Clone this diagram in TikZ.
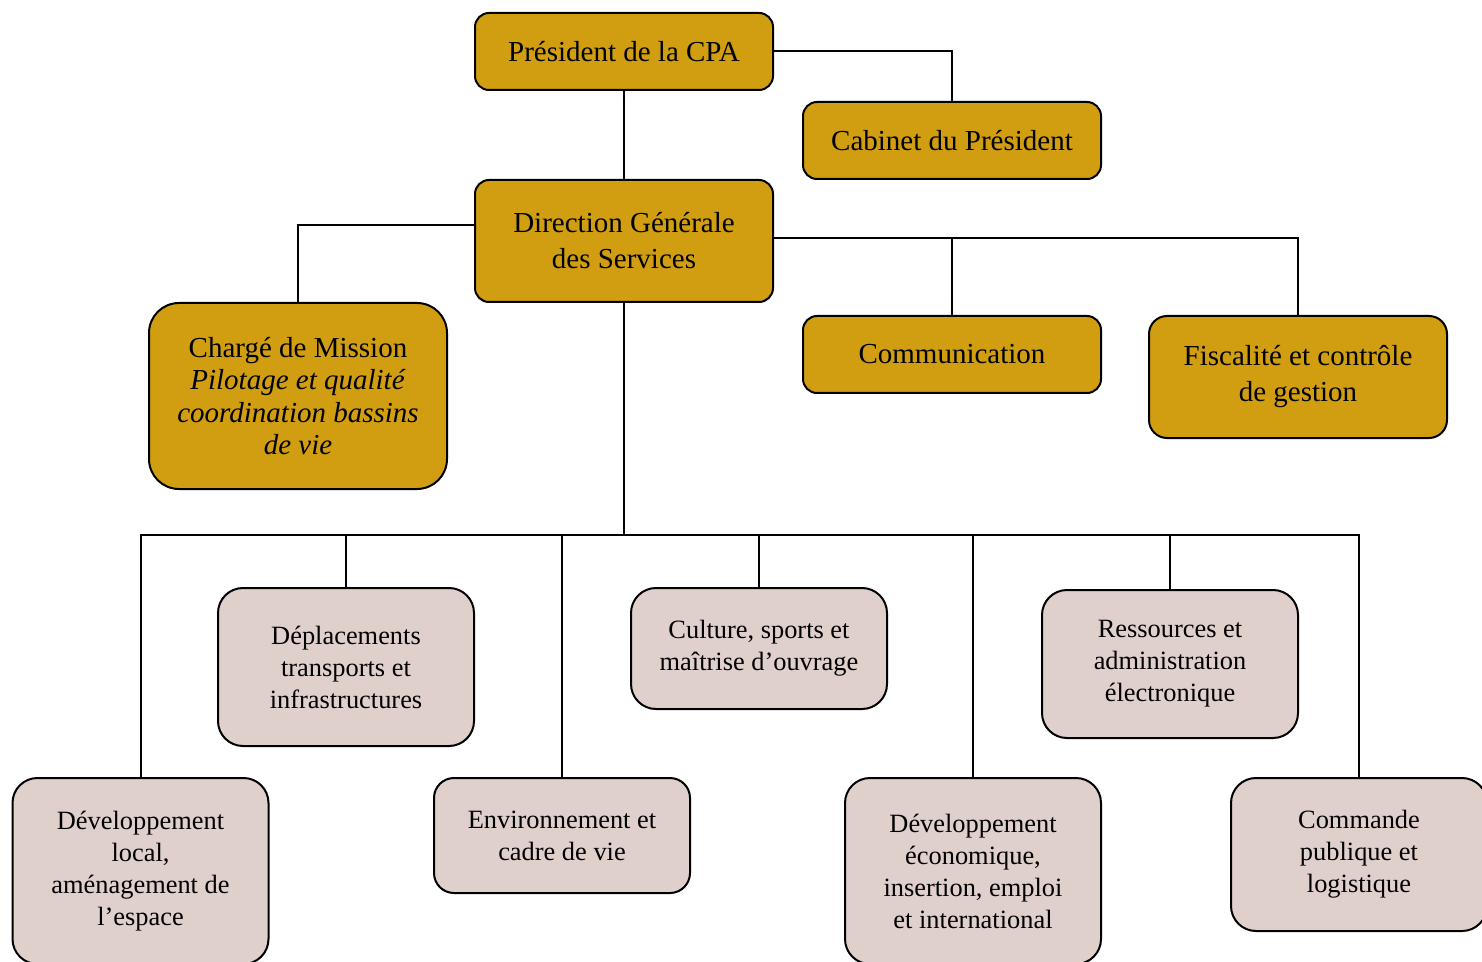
\documentclass[tikz,border=0pt]{standalone}
\usepackage{fontspec}
\setmainfont{Liberation Serif}
\definecolor{ocre}{RGB}{208,158,16}
\definecolor{rose}{RGB}{224,208,204}

\tikzstyle{direction}=[draw, line width=1pt, fill=ocre, rounded corners=7pt,
  align=center, minimum width=149pt, inner sep=2pt,
  font=\fontsize{14.5}{18}\selectfont]
\tikzstyle{service}=[draw, line width=1pt, fill=rose, rounded corners=12.5pt,
  align=center, minimum width=128pt, inner sep=2pt,
  font=\fontsize{13.2}{16}\selectfont]

\begin{document}
\begin{tikzpicture}[x=0.5pt, y=-0.5pt, line width=1pt]
\useasboundingbox (0,0) rectangle (1482,962);
%
\draw (624,51.5) node[direction, minimum height=38.5pt](president){Président de la CPA};
\draw (952,140.5) node[direction, minimum height=38.5pt](cabinet){Cabinet du Président};
\draw (president.east) -| (cabinet.north);
%
\draw (624,241) node[direction, minimum height=61pt](dgs){Direction Générale\\des Services};
\draw (president) -- (dgs);
%
\draw (298,396) node[direction, minimum height=93pt, rounded corners=15pt,
  font=\fontsize{14.5}{16.2}\selectfont](charge)
  {Chargé de Mission\\\textit{Pilotage et qualité}\\\textit{coordination bassins}\\\textit{de vie}};
\draw ([yshift = 8pt] dgs.west) -| (charge.north);
%
\draw (952,354.5) node[direction, minimum height=38.5pt](communication){Communication};
\draw (1298,377) node[direction, minimum height=61pt, rounded corners=9pt](fiscalite)
  {Fiscalité et contrôle\\de gestion};
\draw ([yshift = 1.5pt] dgs.east) -| (communication.north);
\draw ([yshift = 1.5pt] dgs.east) -| (fiscalite.north);
%
% services
\coordinate (bus) at (624,535);
\draw (dgs.south) -- (bus);
%
\draw (346,667) node[service, minimum height=79pt](deplacements)
  {Déplacements\\transports et\\infrastructures};
\draw (759,648.5) node[service, minimum height=60.5pt](culture)
  {Culture, sports et\\maîtrise d’ouvrage};
\draw (1170,664) node[service, minimum height=74pt](ressources)
  {Ressources et\\administration\\électronique};
%
\draw (140.5,871) node[service, minimum height=93pt](devlocal)
  {Développement\\local,\\aménagement de\\l’espace};
\draw (562,835.5) node[service, minimum height=57.5pt, rounded corners=10pt](environnement)
  {Environnement et\\cadre de vie};
\draw (973,871) node[service, minimum height=93pt](deveco)
  {Développement\\économique,\\insertion, emploi\\et international};
\draw (1359,854.5) node[service, minimum height=76.5pt](commande)
  {Commande\\publique et\\logistique};
%
\foreach \s in {devlocal, deplacements, environnement, culture, deveco, ressources, commande}
  \draw (bus) -| (\s.north);
\end{tikzpicture}
\end{document}
